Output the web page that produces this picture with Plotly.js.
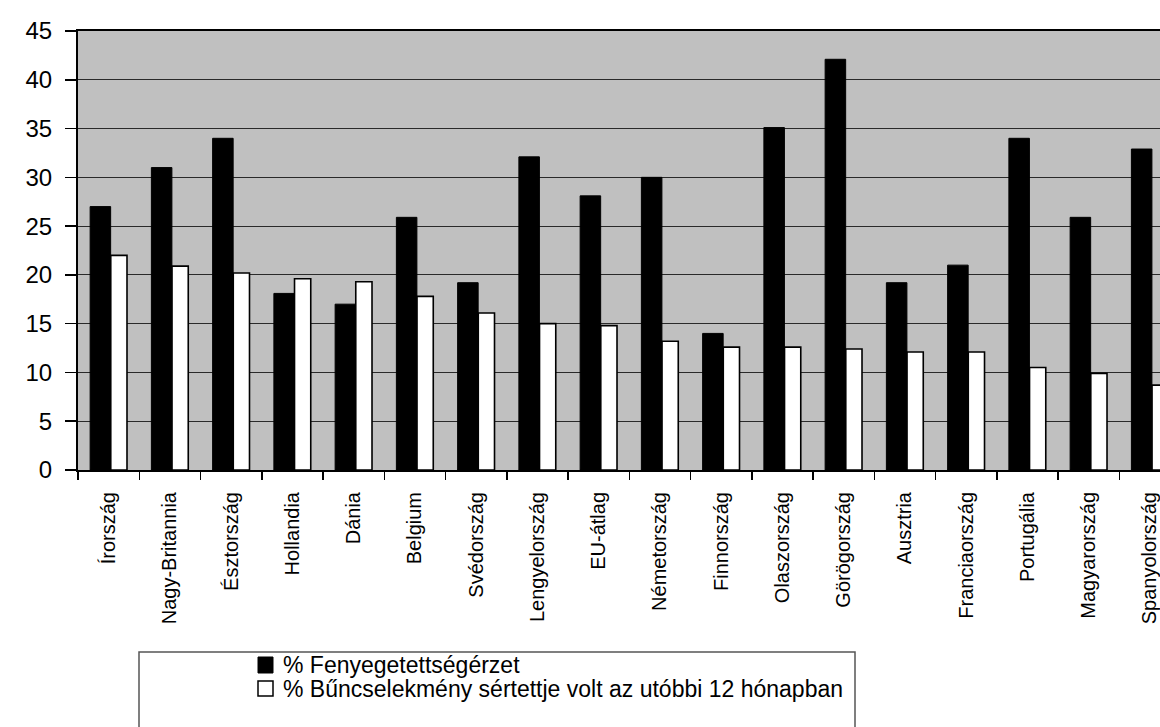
<!DOCTYPE html>
<html>
<head>
<meta charset="utf-8">
<script src="https://cdn.plot.ly/plotly-3.0.1.min.js"></script>
<style>
  html, body { margin: 0; padding: 0; background: #ffffff; overflow: hidden; }
  #chart { width: 1160px; height: 727px; }
</style>
</head>
<body>
<div id="chart"></div>
<script>
// ---- data ----
const categories = ["Írország", "Nagy-Britannia", "Észtország", "Hollandia", "Dánia", "Belgium",
  "Svédország", "Lengyelország", "EU-átlag", "Németország", "Finnország", "Olaszország",
  "Görögország", "Ausztria", "Franciaország", "Portugália", "Magyarország", "Spanyolország"];
const fenyegetettseg = [27, 31, 34, 18.1, 17, 25.9, 19.2, 32.1, 28.1, 30, 14, 35.1, 42.1, 19.2, 21, 34, 25.9, 32.9];
const sertett = [22, 20.9, 20.2, 19.6, 19.3, 17.8, 16.1, 15, 14.8, 13.2, 12.6, 12.6, 12.4, 12.1, 12.1, 10.5, 9.9, 8.7];
const seriesNames = ["% Fenyegetettségérzet", "% Bűncselekmény sértettje volt az utóbbi 12 hónapban"];
const yTicks = [0, 5, 10, 15, 20, 25, 30, 35, 40, 45];

// ---- layout geometry ----
const W = 1160, H = 727;
const mL = 78, mR = 0, mT = 31, mB = 257;
const plotW = W - mL - mR, plotH = H - mT - mB;
const px2x = p => (p - mL) / plotW;
const py2y = p => (H - mB - p) / plotH;
const FONT = "Liberation Sans, Arial, Helvetica, sans-serif";

const traces = [
  {
    type: "bar", name: seriesNames[0], x: categories, y: fenyegetettseg,
    marker: { color: "#000000", line: { color: "#000000", width: 1 } },
    width: 0.335, offset: -0.302, showlegend: false, hoverinfo: "x+y"
  },
  {
    type: "bar", name: seriesNames[1], x: categories, y: sertett,
    marker: { color: "#ffffff", line: { color: "#000000", width: 1.6 } },
    width: 0.265, offset: 0.035, showlegend: false, hoverinfo: "x+y"
  }
];

const shapes = [
  // legend box
  { type: "rect", xref: "paper", yref: "paper",
    x0: px2x(139), x1: px2x(855), y0: py2y(652), y1: py2y(740),
    line: { color: "#555555", width: 1.5 }, fillcolor: "rgba(0,0,0,0)" },
  // legend symbols
  { type: "rect", xref: "paper", yref: "paper",
    x0: px2x(258), x1: px2x(273), y0: py2y(657), y1: py2y(673),
    line: { color: "#000000", width: 1 }, fillcolor: "#000000" },
  { type: "rect", xref: "paper", yref: "paper",
    x0: px2x(258), x1: px2x(273), y0: py2y(681), y1: py2y(696),
    line: { color: "#000000", width: 1.5 }, fillcolor: "#ffffff" }
];

const annotations = [
  { xref: "paper", yref: "paper", x: px2x(281), y: py2y(665), xanchor: "left", yanchor: "middle",
    text: seriesNames[0], showarrow: false, font: { family: FONT, size: 23, color: "#000" } },
  { xref: "paper", yref: "paper", x: px2x(281), y: py2y(689), xanchor: "left", yanchor: "middle",
    text: seriesNames[1], showarrow: false, font: { family: FONT, size: 23, color: "#000" } }
];

const layout = {
  width: W, height: H,
  margin: { l: mL, r: mR, t: mT, b: mB, pad: 0 },
  paper_bgcolor: "#ffffff",
  plot_bgcolor: "#c0c0c0",
  showlegend: false,
  barmode: "group",
  font: { family: FONT, color: "#000000" },
  xaxis: {
    type: "category",
    range: [-0.5, 17.165],
    tickangle: -90,
    tickson: "boundaries",
    ticks: "outside", ticklen: 8, tickwidth: 1.5, tickcolor: "#000",
    showline: true, linecolor: "#000", linewidth: 2, mirror: true,
    showgrid: false,
    tickfont: { family: FONT, size: 20, color: "#000" },
    ticklabelstandoff: 12,
    fixedrange: true
  },
  yaxis: {
    range: [0, 45],
    tickvals: yTicks,
    ticktext: yTicks.map(String),
    ticks: "outside", ticklen: 11, tickwidth: 1.5, tickcolor: "#000",
    showline: true, linecolor: "#000", linewidth: 2,
    showgrid: true, gridcolor: "#2a2a2a", gridwidth: 1,
    zeroline: false,
    tickfont: { family: FONT, size: 24, color: "#000" },
    ticklabelstandoff: 8,
    fixedrange: true
  },
  shapes: shapes,
  annotations: annotations
};

Plotly.newPlot("chart", traces, layout, { displayModeBar: false, staticPlot: true });
</script>
</body>
</html>
